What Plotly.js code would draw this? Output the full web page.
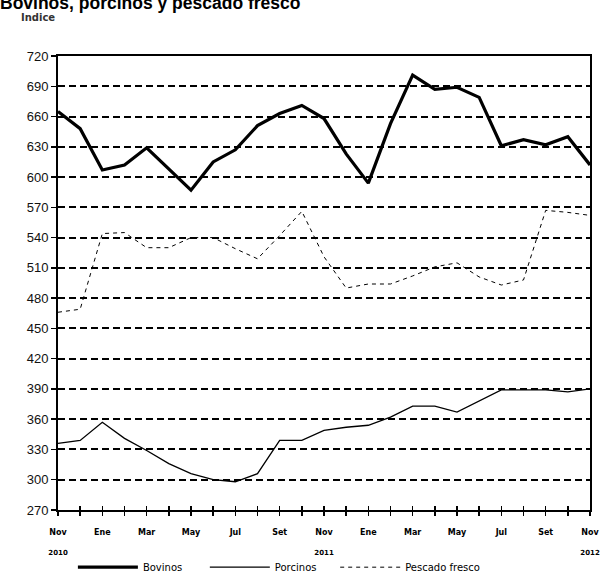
<!DOCTYPE html>
<html>
<head>
<meta charset="utf-8">
<script src="https://cdn.plot.ly/plotly-3.0.1.min.js"></script>
<style>html,body{margin:0;padding:0;background:#fff;}#chart{width:600px;height:573px;}</style>
</head>
<body>
<div id="chart"></div>
<script>
const months = ["Nov 2010","Dic 2010","Ene 2011","Feb 2011","Mar 2011","Abr 2011","May 2011","Jun 2011","Jul 2011","Ago 2011","Set 2011","Oct 2011",
  "Nov 2011","Dic 2011","Ene 2012","Feb 2012","Mar 2012","Abr 2012","May 2012","Jun 2012","Jul 2012","Ago 2012","Set 2012","Oct 2012","Nov 2012"];
const tickLabels = ["<b>Nov</b><br><br><b><span style='font-size:7px'>2010</span></b>","","<b>Ene</b>","","<b>Mar</b>","","<b>May</b>","","<b>Jul</b>","","<b>Set</b>","",
  "<b>Nov</b><br><br><b><span style='font-size:7px'>2011</span></b>","","<b>Ene</b>","","<b>Mar</b>","","<b>May</b>","","<b>Jul</b>","","<b>Set</b>","","<b>Nov</b><br><br><b><span style='font-size:7px'>2012</span></b>"];
const bovinos = [665,648,607,612,629,608,587,615,627,651,663,671,658,623,594,653,701,687,689,679,631,637,632,640,612];
const porcinos = [336,339,357,341,329,316,306,300,298,306,339,339,349,352,354,362,373,373,367,378,389,389,389,387,390];
const pescado = [466,469,544,545,530,530,540,540,529,519,542,566,521,490,494,494,502,511,515,501,493,498,567,565,562];
const yTicks = [270,300,330,360,390,420,450,480,510,540,570,600,630,660,690,720];

const traces = [
  {x: months, y: bovinos, name: "Bovinos", type: "scatter", mode: "lines", line: {color: "#000", width: 3.2}, legend: "legend"},
  {x: months, y: porcinos, name: "Porcinos", type: "scatter", mode: "lines", line: {color: "#000", width: 1.3}, legend: "legend2"},
  {x: months, y: pescado, name: "Pescado fresco", type: "scatter", mode: "lines", line: {color: "#000", width: 1, dash: "4px,4px"}, legend: "legend3"}
];

const legFont = {family: "DejaVu Sans", size: 10, color: "#000"};
const legBase = {orientation: "h", xanchor: "left", y: -0.094, yanchor: "top", font: legFont, itemwidth: 60, bgcolor: "rgba(0,0,0,0)"};

const layout = {
  width: 600, height: 573,
  paper_bgcolor: "#fff", plot_bgcolor: "#fff",
  margin: {l: 58, r: 10, t: 56, b: 63, autoexpand: false},
  title: {text: "<b>Bovinos, porcinos y pescado fresco</b>", font: {family: "Liberation Sans, Arial", size: 17.5, color: "#000"},
          x: 0, xref: "container", xanchor: "left", y: 0.995, yref: "container", yanchor: "middle", pad: {l: 0, t: 0}},
  showlegend: true,
  legend: Object.assign({}, legBase, {x: 0.028}),
  legend2: Object.assign({}, legBase, {x: 0.276}),
  legend3: Object.assign({}, legBase, {x: 0.521}),
  xaxis: {type: "category", range: [0, 24], tickvals: months, ticktext: tickLabels, tickmode: "array",
          ticks: "outside", ticklen: 4, tickwidth: 1.5, tickcolor: "#000", ticklabelstandoff: 9,
          showline: true, linecolor: "#000", linewidth: 2, mirror: true, showgrid: false, zeroline: false,
          tickfont: {family: "DejaVu Sans", size: 8, color: "#000"}, tickangle: 0, fixedrange: true},
  xaxis2: {type: "category", overlaying: "x", anchor: "y", side: "bottom", range: [0, 24], tickvals: months, ticktext: months.map(() => ""),
           tickmode: "array", ticks: "inside", ticklen: 4, tickwidth: 1.5, tickcolor: "#000", showline: false, showgrid: false, zeroline: false,
           showticklabels: false},
  yaxis: {range: [270, 720], tickvals: yTicks, tickmode: "array", ticks: "outside", ticklen: 5, tickwidth: 1.5, tickcolor: "#000",
          showline: true, linecolor: "#000", linewidth: 2, mirror: true,
          showgrid: true, gridcolor: "#000", gridwidth: 2, griddash: "7px,4px", zeroline: false,
          tickfont: {family: "Liberation Sans, Arial", size: 13, color: "#111"}, fixedrange: true},
  annotations: [
    {text: "<b>Indice</b>", xref: "paper", yref: "paper", x: -0.074, y: 1 + (56-17)/454, xanchor: "left", yanchor: "middle",
     showarrow: false, font: {family: "DejaVu Sans", size: 10, color: "#333"}}
  ]
};

traces.push({x: months, y: bovinos, xaxis: "x2", yaxis: "y", type: "scatter", mode: "lines", line: {width: 0, color: "rgba(0,0,0,0)"}, showlegend: false, hoverinfo: "skip"});

Plotly.newPlot("chart", traces, layout, {staticPlot: true, displayModeBar: false});
</script>
</body>
</html>
